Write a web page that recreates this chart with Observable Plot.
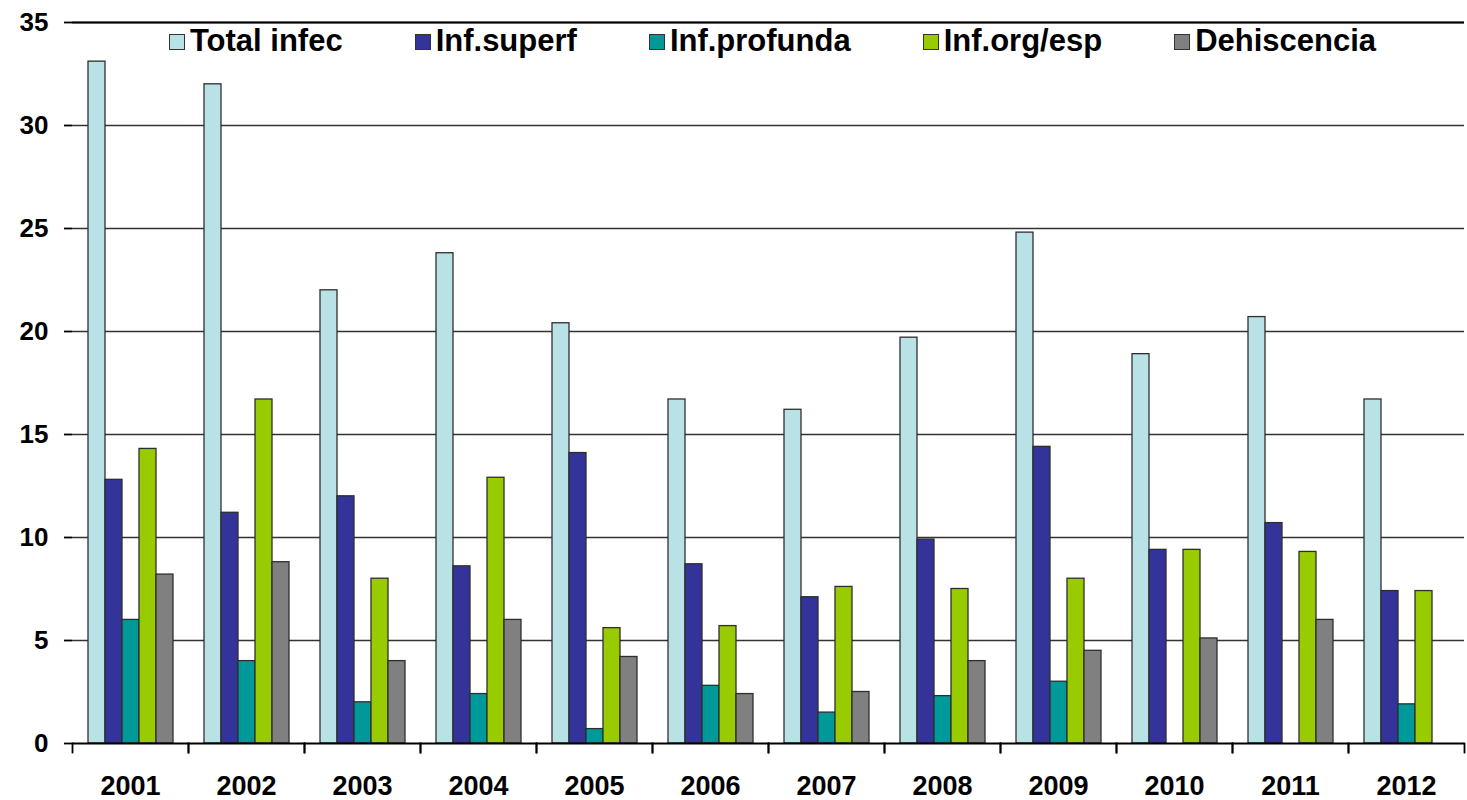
<!DOCTYPE html>
<html>
<head>
<meta charset="utf-8">
<script src="https://cdn.jsdelivr.net/npm/d3@7"></script>
<script src="https://cdn.jsdelivr.net/npm/@observablehq/plot@0.6"></script>
<style>
  html, body { margin: 0; padding: 0; background: #fff; }
  #wrap { position: relative; width: 1467px; height: 800px; }
  #legend {
    position: absolute; top: 22px; left: 80px; width: 1385px; height: 38px;
    display: flex; justify-content: center; align-items: center; gap: 72px;
    font-family: "Liberation Sans", Arial, sans-serif; font-weight: bold; font-size: 31px; color: #000;
  }
  .item { display: flex; align-items: center; white-space: nowrap; }
  .sw { width: 14px; height: 14px; border: 1.5px solid #333; margin-right: 5px; margin-top: 2px; }
</style>
</head>
<body>
<div id="wrap"><div id="legend"></div></div>
<script>
const years = ["2001","2002","2003","2004","2005","2006","2007","2008","2009","2010","2011","2012"];
const series = ["Total infec","Inf.superf","Inf.profunda","Inf.org/esp","Dehiscencia"];
const colors = ["#b9e2e6","#333399","#009999","#99cc00","#808080"];

const totalInfec  = [33.1, 32.0, 22.0, 23.8, 20.4, 16.7, 16.2, 19.7, 24.8, 18.9, 20.7, 16.7];
const infSuperf   = [12.8, 11.2, 12.0,  8.6, 14.1,  8.7,  7.1,  9.9, 14.4,  9.4, 10.7,  7.4];
const infProfunda = [ 6.0,  4.0,  2.0,  2.4,  0.7,  2.8,  1.5,  2.3,  3.0, null, null,  1.9];
const infOrgEsp   = [14.3, 16.7,  8.0, 12.9,  5.6,  5.7,  7.6,  7.5,  8.0,  9.4,  9.3,  7.4];
const dehiscencia = [ 8.2,  8.8,  4.0,  6.0,  4.2,  2.4,  2.5,  4.0,  4.5,  5.1,  6.0, null];

const yTicks = [0, 5, 10, 15, 20, 25, 30, 35];

const seriesValues = [totalInfec, infSuperf, infProfunda, infOrgEsp, dehiscencia];
const data = [];
years.forEach((yr, i) => {
  series.forEach((s, j) => {
    data.push({year: yr, series: s, value: seriesValues[j][i]});
  });
});

const chart = Plot.plot({
  width: 1467,
  height: 800,
  marginLeft: 70,
  marginRight: 2,
  marginTop: 22,
  marginBottom: 57,
  style: {fontFamily: "'Liberation Sans', Arial, sans-serif", fontWeight: "bold", fontSize: "26px", color: "#000", background: "#fff"},
  fx: {domain: years, padding: 0, label: null, axis: null},
  x: {domain: series, paddingInner: 0, paddingOuter: 0.73, axis: null},
  y: {domain: [0, 35], ticks: yTicks, label: null, axis: null},
  color: {domain: series, range: colors},
  marks: [
    Plot.ruleY(yTicks.filter(d => d > 0), {stroke: "#333", strokeWidth: 1.4}),
    Plot.barY(data, {fx: "year", x: "series", y: "value", fill: "series", stroke: "#2e2e2e", strokeWidth: 1.3}),
    Plot.ruleY([0], {stroke: "#000", strokeWidth: 2.2}),
    Plot.ruleY([35], {stroke: "#000", strokeWidth: 2}),
    Plot.frame({anchor: "left", stroke: "#000", strokeWidth: 1.8, insetTop: 721, insetBottom: -9}),
    Plot.frame({anchor: "right", stroke: "#000", strokeWidth: 1.8, insetTop: 721, insetBottom: -9}),
    Plot.axisY({anchor: "left", ticks: yTicks, tickSize: 8, tickPadding: 16, stroke: "#000", strokeWidth: 1.8, fontSize: 26, fontWeight: "bold", line: true, label: null}),
    Plot.axisY({anchor: "right", ticks: [], tickSize: 0, stroke: "#000", strokeWidth: 2.2, line: true, label: null}),
    Plot.axisFx({anchor: "bottom", tickSize: 0, tickPadding: 32, fontSize: 27, fontWeight: "bold", label: null})
  ]
});

document.getElementById("wrap").prepend(chart);

const col = chart.scale("color");
const legend = document.getElementById("legend");
col.domain.forEach((name, i) => {
  const it = document.createElement("div");
  it.className = "item";
  const sw = document.createElement("div");
  sw.className = "sw";
  sw.style.background = col.range[i];
  const tx = document.createElement("span");
  tx.textContent = name;
  it.appendChild(sw);
  it.appendChild(tx);
  legend.appendChild(it);
});
</script>
</body>
</html>
